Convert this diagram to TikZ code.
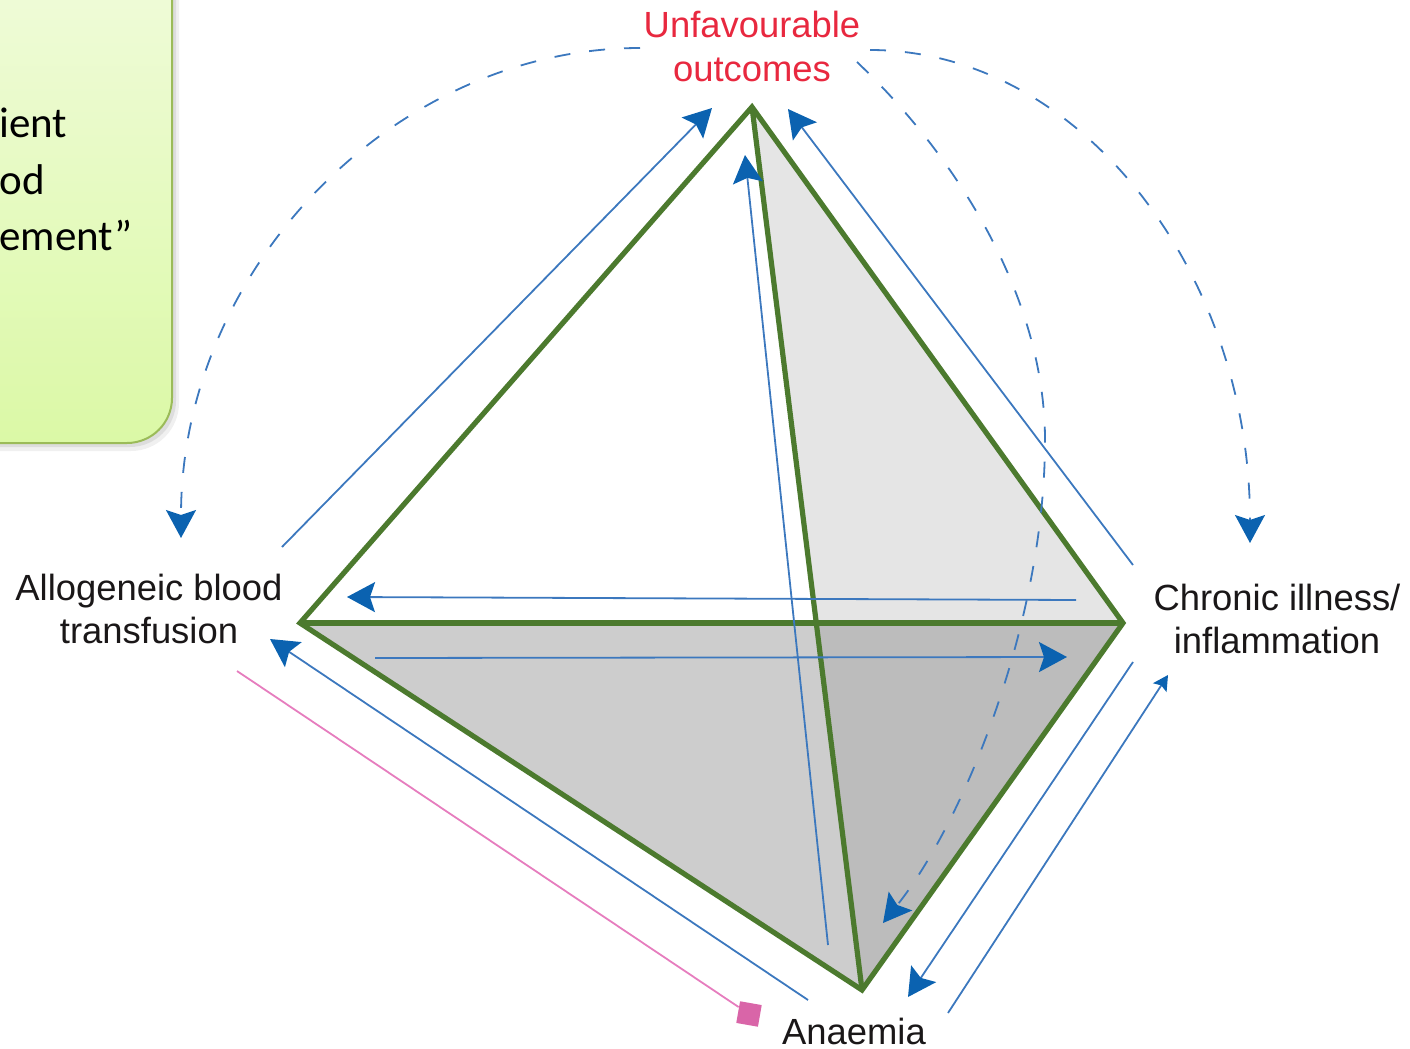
\documentclass[tikz,border=0pt]{standalone}
\usepackage{fontspec}
\setmainfont{Liberation Sans}
\newfontfamily\boxfont{Carlito}
\usetikzlibrary{arrows.meta}
\definecolor{edgegreen}{HTML}{4C7A2E}
\definecolor{arrowblue}{HTML}{0B62B0}
\definecolor{lineblue}{HTML}{3C78BE}
\definecolor{redtext}{HTML}{E8283F}
\definecolor{pinkline}{HTML}{E67DBE}
\definecolor{pinkmark}{HTML}{D965A8}
\definecolor{faceA}{HTML}{E5E5E5}
\definecolor{faceB}{HTML}{CDCDCD}
\definecolor{faceC}{HTML}{BCBCBC}
\definecolor{boxborder}{HTML}{9BBB59}
\definecolor{boxtop}{HTML}{F1FBDD}
\definecolor{boxbot}{HTML}{DBF9A6}
\definecolor{labeltext}{HTML}{1A1718}
\tikzset{
  flow/.style={draw=lineblue, line width=0.9pt,
    -{Stealth[length=14pt,width=15pt,inset=2.5pt,color=arrowblue]}},
  smallflow/.style={draw=lineblue, line width=0.9pt,
    -{Stealth[length=7.5pt,width=8pt,inset=1.3pt,color=arrowblue]}},
  dashflow/.style={flow, dash pattern=on 8pt off 9.5pt},
  greenedge/.style={draw=edgegreen, line width=2.6pt, line join=miter},
  lbl/.style={font=\fontsize{18.2}{21.5}\selectfont, text=labeltext, align=center, inner sep=0pt},
  boxtext/.style={font=\boxfont\fontsize{21.5}{28.5}\selectfont, anchor=base west, inner sep=0pt},
}
\begin{document}
\begin{tikzpicture}[x=0.5pt,y=-0.5pt]
\useasboundingbox (0,0) rectangle (1410,1049);
% green note box (cut by the picture border)
\begin{scope}
  \clip (0,0) rectangle (1410,1049);
  \fill[black, opacity=0.06, rounded corners=24pt] (-60,-60) rectangle (179,451);
  \fill[black, opacity=0.08, rounded corners=23pt] (-60,-60) rectangle (176,447);
  \shadedraw[top color=boxtop, bottom color=boxbot, draw=boxborder, line width=1pt, rounded corners=22.5pt] (-60,-60) rectangle (172,443);
\end{scope}
\node[boxtext] (b1) at (-1,137) {ient};
\node[boxtext] (b2) at (-1,194) {od};
\node[boxtext] (b3) at (-1,250) {ement”};

% vertices
\coordinate (T) at (752,107);
\coordinate (L) at (300,623);
\coordinate (R) at (1123,623);
\coordinate (B) at (862,990);
\coordinate (X) at (intersection of T--B and L--R);

% faces
\fill[faceA] (T) -- (R) -- (X) -- cycle;
\fill[faceB] (L) -- (X) -- (B) -- cycle;
\fill[faceC] (X) -- (R) -- (B) -- cycle;

% edges
\draw[greenedge] (L) -- (T) -- (R) -- (B) -- cycle;
\draw[greenedge] (L) -- (R);
\draw[greenedge] (T) -- (B);

% arrow end points
\coordinate (a1s) at (282,547);  \coordinate (a1e) at (712,108);
\coordinate (a2s) at (1133,565); \coordinate (a2e) at (788,109);
\coordinate (a3s) at (828,945);  \coordinate (a3e) at (745,155);
\coordinate (a4s) at (1076,600); \coordinate (a4e) at (347,597);
\coordinate (a5s) at (375,658);  \coordinate (a5e) at (1067,657);
\coordinate (a6s) at (808,1000); \coordinate (a6e) at (270,639);
\coordinate (a7s) at (1133,662); \coordinate (a7e) at (908,997);
\coordinate (a8s) at (948,1013); \coordinate (a8e) at (1168,675);

\draw[flow] (a1s) -- (a1e);
\draw[flow] (a2s) -- (a2e);
\draw[flow] (a3s) -- (a3e);
\draw[flow] (a4s) -- (a4e);
\draw[flow] (a5s) -- (a5e);
\draw[flow] (a6s) -- (a6e);
\draw[flow] (a7s) -- (a7e);
\draw[smallflow] (a8s) -- (a8e);

% dashed curves
\coordinate (d1s) at (640,48);  \coordinate (d1e) at (181,538);
\coordinate (d2s) at (870,50);  \coordinate (d2e) at (1250,543);
\coordinate (d3s) at (857,62);  \coordinate (d3m) at (1045,440); \coordinate (d3e) at (883,923);
\draw[dashflow] (d1s) .. controls (395,48) and (181,268) .. (d1e);
\draw[dashflow] (d2s) .. controls (1080,50) and (1250,272) .. (d2e);
\draw[dashflow] (d3s) .. controls (960,160) and (1045,300) .. (d3m)
                      .. controls (1045,620) and (965,820) .. (d3e);

% pink link
\node[rectangle, fill=pinkmark, minimum size=11pt, inner sep=0pt, rotate=-10] (sq) at (749,1014) {};
\coordinate (p1) at (237,671);
\draw[pinkline, line width=0.9pt] (p1) -- (sq);

% labels (base anchor = baseline of last line)
\node[lbl, text=redtext, font=\fontsize{18.2}{22}\selectfont, anchor=base] (uo) at (752,81) {Unfavourable\\outcomes};
\node[lbl, anchor=base] (abt) at (149,643) {Allogeneic blood\\transfusion};
\node[lbl, anchor=base] (cii) at (1277,653) {Chronic illness/\\inflammation};
\node[lbl, anchor=base] (an) at (854,1044) {Anaemia};
\end{tikzpicture}
\end{document}
